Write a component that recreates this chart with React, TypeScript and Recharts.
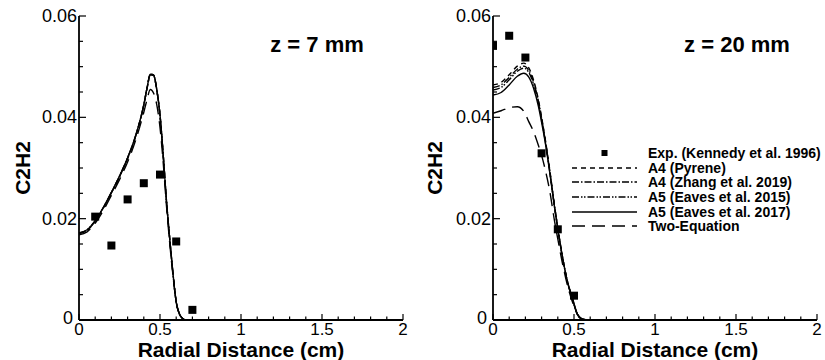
import React from 'react';
import { ComposedChart, Line, Scatter, XAxis, YAxis } from 'recharts';

const FONT = '"Liberation Sans", Arial, Helvetica, sans-serif';

// axis ticks
const xTicks = [0, 0.1, 0.2, 0.3, 0.4, 0.5, 0.6, 0.7, 0.8, 0.9, 1, 1.1, 1.2, 1.3, 1.4, 1.5, 1.6, 1.7, 1.8, 1.9, 2];
const xMajorTicks = [0, 0.5, 1, 1.5, 2];
const yTicks = [0, 0.005, 0.01, 0.015, 0.02, 0.025, 0.03, 0.035, 0.04, 0.045, 0.05, 0.055, 0.06];
const yMajorTicks = [0, 0.02, 0.04, 0.06];

// z = 7 mm
const leftX = [0, 0.05, 0.1, 0.15, 0.2, 0.25, 0.3, 0.35, 0.4, 0.42, 0.44, 0.46, 0.48, 0.5, 0.52, 0.54, 0.56, 0.58, 0.6, 0.62, 0.64, 0.66, 0.7];
const leftPyrene = [0.0171, 0.0177, 0.0195, 0.0221, 0.0251, 0.0283, 0.0319, 0.0363, 0.0424, 0.0457, 0.0484, 0.0483, 0.0454, 0.0404, 0.0324, 0.0234, 0.016, 0.0092, 0.0036, 0.0012, 0.0003, 0, 0];
const leftZhang = [0.0171, 0.0177, 0.0195, 0.0221, 0.0251, 0.0283, 0.0319, 0.0363, 0.0424, 0.0457, 0.0484, 0.0483, 0.0454, 0.0404, 0.0324, 0.0234, 0.016, 0.0092, 0.0036, 0.0012, 0.0003, 0, 0];
const leftEaves15 = [0.0172, 0.0178, 0.0196, 0.0222, 0.0252, 0.0284, 0.032, 0.0364, 0.0425, 0.0458, 0.0485, 0.0484, 0.0455, 0.0405, 0.0325, 0.0235, 0.016, 0.0092, 0.0036, 0.0012, 0.0003, 0, 0];
const leftEaves17 = [0.0172, 0.0178, 0.0196, 0.0222, 0.0252, 0.0284, 0.032, 0.0364, 0.0425, 0.0458, 0.0485, 0.0484, 0.0455, 0.0405, 0.0325, 0.0235, 0.016, 0.0092, 0.0036, 0.0012, 0.0003, 0, 0];
const leftTwoEq = [0.0168, 0.0174, 0.0191, 0.0216, 0.0246, 0.0277, 0.0312, 0.0355, 0.041, 0.0435, 0.0455, 0.0448, 0.0425, 0.038, 0.031, 0.0225, 0.0152, 0.0088, 0.0035, 0.0012, 0.0003, 0, 0];
const leftExpX = [0.1, 0.2, 0.3, 0.4, 0.5, 0.6, 0.7];
const leftExpY = [0.0204, 0.0147, 0.0238, 0.027, 0.0287, 0.0155, 0.002];

// z = 20 mm
const rightX = [0, 0.05, 0.1, 0.15, 0.19, 0.22, 0.25, 0.28, 0.3, 0.32, 0.35, 0.38, 0.4, 0.43, 0.46, 0.49, 0.52, 0.55, 0.58];
const rightPyrene = [0.0464, 0.0469, 0.0484, 0.0501, 0.0507, 0.0498, 0.0474, 0.0435, 0.04, 0.0362, 0.0297, 0.0225, 0.0182, 0.0123, 0.0076, 0.0042, 0.0012, 0.0002, 0];
const rightZhang = [0.0459, 0.0464, 0.0479, 0.0495, 0.0501, 0.0493, 0.047, 0.0432, 0.0398, 0.036, 0.0295, 0.0224, 0.0181, 0.0122, 0.0075, 0.0042, 0.0012, 0.0002, 0];
const rightEaves15 = [0.0454, 0.0459, 0.0474, 0.0491, 0.0497, 0.0489, 0.0466, 0.0429, 0.0396, 0.0358, 0.0294, 0.0223, 0.018, 0.0122, 0.0075, 0.0042, 0.0012, 0.0002, 0];
const rightEaves17 = [0.0444, 0.0449, 0.0464, 0.0481, 0.0487, 0.048, 0.0458, 0.0422, 0.039, 0.0355, 0.0292, 0.0222, 0.018, 0.0122, 0.0075, 0.0044, 0.0012, 0.0002, 0];
const rightTwoEq = [0.0408, 0.0413, 0.0419, 0.0421, 0.0412, 0.0392, 0.0372, 0.0345, 0.0325, 0.03, 0.0255, 0.0195, 0.016, 0.011, 0.0068, 0.0036, 0.0012, 0.0001, 0];
const rightExpX = [0, 0.1, 0.2, 0.3, 0.4, 0.5];
const rightExpY = [0.0541, 0.0561, 0.0518, 0.0329, 0.0179, 0.0048];

const seriesNames = ['A4 (Pyrene)', 'A4 (Zhang et al. 2019)', 'A5 (Eaves et al. 2015)', 'A5 (Eaves et al. 2017)', 'Two-Equation'];
const seriesDash = ['5 4', '7 2 1.5 2', '7 2 1.5 1.5 1.5 2', undefined, '13 7'];
const expName = 'Exp. (Kennedy et al. 1996)';

const PLOT_BOTTOM = 320;

const toPoints = (xs: number[], ys: number[]) => xs.map((x, i) => ({ x, y: ys[i] }));

// ticks point into the plot, so they are drawn by the tick renderer itself
const XTick = (props: any) => {
  const x = Number(props.x);
  const axisY = props.axisY;
  const v = props.payload.value;
  const major = xMajorTicks.includes(v);
  return (
    <g>
      <path d={`M${x},${axisY}V${axisY - (major ? 6 : 3.5)}`} stroke="#000" strokeWidth={1.2} fill="none" />
      {major && (
        <text x={x} y={axisY + 15} textAnchor="middle" fontSize={17} fontFamily={FONT} fill="#000">
          {String(v)}
        </text>
      )}
    </g>
  );
};

const YTick = (props: any) => {
  const y = Number(props.y);
  const axisX = props.axisX;
  const v = props.payload.value;
  const major = yMajorTicks.includes(v);
  return (
    <g>
      <path d={`M${axisX},${y}H${axisX + (major ? 7 : 4)}`} stroke="#000" strokeWidth={1.2} fill="none" />
      {major && (
        <text x={axisX - (v === 0 ? 6 : 2)} y={y + (v === 0 ? 4 : 6)} textAnchor="end" fontSize={18} fontFamily={FONT} fill="#000">
          {v === 0 ? '0' : v.toFixed(2)}
        </text>
      )}
    </g>
  );
};

const square = (p: any) => <rect x={p.cx - 4} y={p.cy - 4} width={8} height={8} fill="#000" />;

function Panel(props: {
  left: number;
  width: number;
  yAxisWidth: number;
  marginRight: number;
  xs: number[];
  series: number[][];
  expX: number[];
  expY: number[];
  title: string;
  titleX: number;
}) {
  const { left, width, yAxisWidth, marginRight, xs, series, expX, expY, title, titleX } = props;
  const plotLeft = yAxisWidth;
  const plotRight = width - marginRight;
  return (
    <div style={{ position: 'absolute', left, top: 0, width, height: 360 }}>
      <ComposedChart width={width} height={360} margin={{ top: 16, right: marginRight, bottom: 0, left: 0 }}>
        <XAxis
          dataKey="x"
          type="number"
          domain={[0, 2]}
          ticks={xTicks}
          interval={0}
          allowDataOverflow
          tickLine={false}
          tick={<XTick axisY={PLOT_BOTTOM} />}
          height={40}
          axisLine={{ stroke: '#000', strokeWidth: 1.8 }}
        />
        <YAxis
          dataKey="y"
          type="number"
          domain={[0, 0.06]}
          ticks={yTicks}
          interval={0}
          allowDataOverflow
          tickLine={false}
          tick={<YTick axisX={plotLeft} />}
          width={yAxisWidth}
          axisLine={{ stroke: '#000', strokeWidth: 1.8 }}
        />
        {series.map((ys, i) => (
          <Line
            key={seriesNames[i]}
            name={seriesNames[i]}
            data={toPoints(xs, ys)}
            dataKey="y"
            type="monotone"
            stroke="#000"
            strokeWidth={1.4}
            strokeDasharray={seriesDash[i]}
            dot={false}
            activeDot={false}
            isAnimationActive={false}
          />
        ))}
        <Scatter name={expName} data={toPoints(expX, expY)} dataKey="y" fill="#000" shape={square} isAnimationActive={false} />
      </ComposedChart>
      <div
        style={{
          position: 'absolute',
          left: 23 - 40,
          top: 168 - 12,
          width: 80,
          height: 24,
          lineHeight: '24px',
          textAlign: 'center',
          transform: 'rotate(-90deg)',
          fontFamily: FONT,
          fontWeight: 'bold',
          fontSize: 21,
        }}
      >
        C2H2
      </div>
      <div
        style={{
          position: 'absolute',
          left: plotLeft,
          width: plotRight - plotLeft,
          top: 339,
          height: 21,
          lineHeight: '21px',
          textAlign: 'center',
          fontFamily: FONT,
          fontWeight: 'bold',
          fontSize: 21,
          whiteSpace: 'nowrap',
        }}
      >
        Radial Distance (cm)
      </div>
      <div
        style={{
          position: 'absolute',
          left: titleX - 80,
          width: 160,
          top: 31,
          height: 28,
          lineHeight: '28px',
          textAlign: 'center',
          fontFamily: FONT,
          fontWeight: 'bold',
          fontSize: 22,
          whiteSpace: 'nowrap',
        }}
      >
        {title}
      </div>
    </div>
  );
}

function LegendBox() {
  const rows = [expName, ...seriesNames];
  return (
    <div style={{ position: 'absolute', left: 572, top: 146, width: 260 }}>
      {rows.map((name, i) => (
        <div
          key={name}
          style={{ position: 'absolute', left: 0, top: i * 14.6, height: 14.6, display: 'flex', alignItems: 'center', whiteSpace: 'nowrap' }}
        >
          <svg width={65} height={14} style={{ display: 'block' }}>
            {i === 0 ? (
              <rect x={29.5} y={4} width={6} height={6} fill="#000" />
            ) : (
              <line x1={0} y1={7} x2={65} y2={7} stroke="#000" strokeWidth={1.4} strokeDasharray={seriesDash[i - 1]} />
            )}
          </svg>
          <span style={{ marginLeft: 11, fontFamily: FONT, fontWeight: 'bold', fontSize: 14, lineHeight: '14px' }}>{name}</span>
        </div>
      ))}
    </div>
  );
}

export default function App() {
  return (
    <div style={{ position: 'absolute', left: 0, top: 0, width: 825, height: 360, background: '#fff', overflow: 'hidden' }}>
      <Panel
        left={0}
        width={412}
        yAxisWidth={79}
        marginRight={9}
        xs={leftX}
        series={[leftPyrene, leftZhang, leftEaves15, leftEaves17, leftTwoEq]}
        expX={leftExpX}
        expY={leftExpY}
        title="z = 7 mm"
        titleX={317}
      />
      <Panel
        left={412}
        width={413}
        yAxisWidth={81}
        marginRight={8}
        xs={rightX}
        series={[rightPyrene, rightZhang, rightEaves15, rightEaves17, rightTwoEq]}
        expX={rightExpX}
        expY={rightExpY}
        title="z = 20 mm"
        titleX={325}
      />
      <LegendBox />
    </div>
  );
}
